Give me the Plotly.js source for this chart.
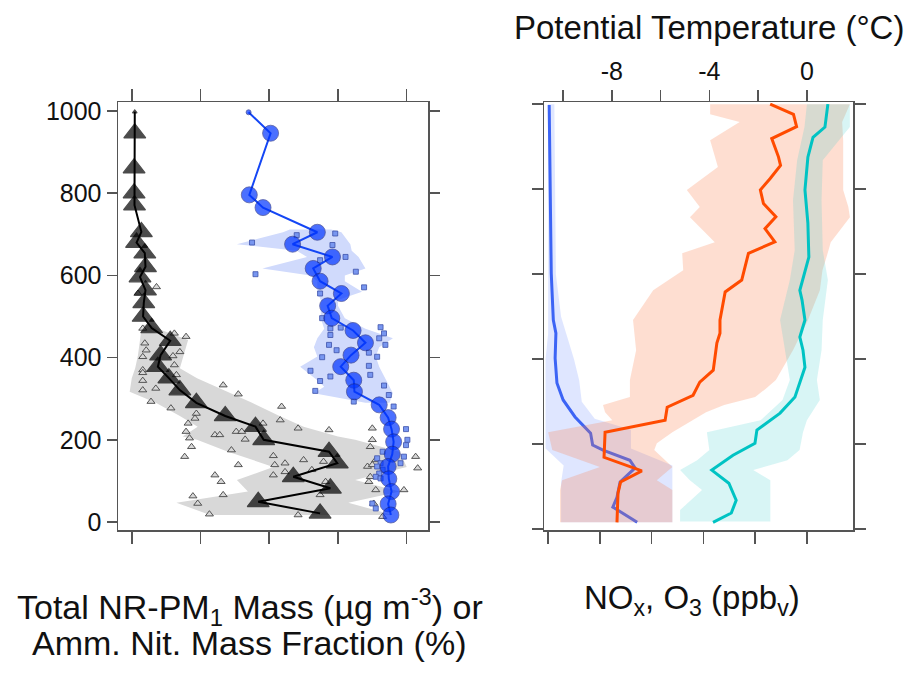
<!DOCTYPE html>
<html>
<head>
<meta charset="utf-8">
<script src="https://cdn.plot.ly/plotly-3.0.1.min.js"></script>
<style>html,body{margin:0;padding:0;background:#fff;}#chart{width:915px;height:674px;}</style>
</head>
<body>
<div id="chart"></div>
<script>
// ---------- Left panel: vertical profiles (altitude, m) ----------
const ammAlt = [998, 946, 861, 800, 771, 706, 680, 654, 621, 596, 564, 533, 500, 472, 441, 406, 378, 350, 321, 290, 258, 232, 200, 171, 143, 110, 82, 49, 21];
const ammVal = [0.44, 0.44, 0.34, 0.34, 0.4, 1.4, 0.7, 1.9, 2.0, 1.2, 2.0, 1.75, 1.65, 2.9, 5.6, 4.2, 3.8, 5.4, 7.0, 9.4, 13.6, 18.0, 19.2, 28.7, 29.9, 23.5, 28.9, 18.4, 27.4];

const massAlt = [997, 946, 796, 765, 705, 676, 645, 617, 586, 556, 526, 496, 466, 436, 406, 378, 345, 317, 285, 254, 226, 195, 165, 135, 105, 74, 44, 17];
const massVal = [17.0, 20.2, 17.1, 19.1, 27.0, 23.4, 29.2, 26.4, 27.4, 30.5, 28.5, 29.1, 32.2, 34.0, 31.9, 30.4, 32.3, 32.4, 36.0, 37.3, 37.8, 38.1, 37.9, 37.3, 37.4, 37.8, 37.3, 37.7];

// variability envelopes
const ammBandAlt = [480, 470, 443, 405, 374, 350, 317, 290, 258, 232, 208, 200, 171, 134, 102, 74, 47, 17];
const ammBandLo  = [1.8, 1.4, 1.2, 0.9, 0.5, 0.0, -0.3, 3.5, 7.0, 9.6, 7.4, 9.5, 14.0, 20.6, 15.3, 16.9, 6.5, 11.4];
const ammBandHi  = [2.8, 3.8, 8.2, 7.5, 7.0, 9.5, 14.0, 17.5, 21.5, 25.0, 30.0, 32.5, 39.0, 40.0, 32.5, 39.0, 31.5, 38.0];

const massBandAlt = [712, 705, 676, 660, 645, 617, 600, 586, 560, 540, 526, 496, 470, 447, 425, 403, 378, 345, 329, 313, 290];
const massBandLo  = [23.0, 22.0, 15.3, 24.0, 25.5, 19.0, 26.0, 27.0, 27.0, 27.5, 27.5, 27.5, 28.0, 27.0, 26.5, 27.0, 24.5, 27.0, 28.0, 26.5, 34.0];
const massBandHi  = [29.0, 30.5, 31.8, 32.0, 33.0, 34.0, 31.0, 31.0, 33.5, 30.0, 30.0, 31.0, 34.0, 38.0, 36.0, 35.5, 36.0, 37.0, 37.5, 38.0, 37.5];

// individual samples
const ammPtVal = [6.2, 7.9, 1.9, 2.1, 7.0, 1.6, 6.0, 6.2, 1.6, 1.6, 6.5, 1.6, 3.5, 1.6, 5.7, 2.8, 13.3, 15.5, 21.8, 21.6, 24.2, 19.1, 9.4, 9.2, 8.2, 7.9, 8.4, 12.1, 12.8, 15.2, 16.0, 16.5, 14.5, 8.7, 7.7, 15.5, 20.6, 22.3, 20.8, 20.6, 22.3, 25.0, 26.2, 12.1, 13.0, 13.3, 8.9, 9.6, 11.3, 24.2, 28.7, 35.0, 34.7, 35.0, 27.9, 34.3, 35.0, 35.5, 34.5, 34.7, 28.2, 27.4, 35.5, 39.6, 35.2, 41.3, 41.6, 36.5, 3.6, 0.9, 1.6];
const ammPtAlt = [459, 451, 435, 418, 414, 402, 404, 382, 370, 363, 358, 344, 325, 321, 277, 293, 333, 311, 281, 248, 228, 240, 264, 252, 240, 220, 204, 212, 212, 220, 220, 201, 175, 183, 159, 139, 161, 143, 139, 114, 122, 151, 127, 114, 98, 66, 63, 45, 19, 17, 224, 228, 183, 200, 147, 135, 139, 151, 98, 110, 98, 66, 78, 78, 45, 159, 131, 13, 572, 556, 471];

const massPtVal = [17.5, 29.6, 24.0, 29.2, 31.1, 27.4, 18.0, 32.6, 33.8, 27.4, 27.7, 28.9, 30.4, 28.9, 36.2, 36.7, 36.0, 28.7, 29.8, 36.9, 34.5, 35.7, 27.7, 26.0, 34.5, 34.7, 27.4, 28.9, 26.7, 36.7, 37.4, 32.3, 38.1, 39.9, 40.1, 39.9, 36.5, 35.7, 36.2, 35.7, 36.5, 36.0, 35.5, 39.6, 39.1, 36.2, 35.0, 35.5];
const massPtAlt = [680, 702, 698, 674, 645, 637, 603, 609, 571, 556, 496, 471, 473, 455, 474, 459, 447, 431, 418, 431, 412, 402, 401, 368, 380, 358, 343, 354, 319, 332, 309, 293, 281, 226, 200, 187, 171, 155, 143, 135, 127, 118, 110, 159, 143, 106, 45, 33];

// ---------- Right panel ----------
const noxAlt = [998, 798, 602, 492, 461, 402, 344, 304, 264, 226, 198, 186, 162, 144, 111, 75, 52, 16];
const noxVal = [0.2, 0.4, 0.6, 1.0, 1.5, 1.35, 1.7, 2.9, 5.2, 8.2, 8.6, 10.6, 15.8, 16.8, 13.9, 13.3, 12.5, 17.2];
const noxBandAlt = [1000, 600, 500, 460, 400, 350, 300, 260, 234, 190, 150, 110, 50, 16];
const noxBandLo  = [0, 0, 0, 0, -0.5, -0.5, -0.5, -0.5, -0.5, -0.5, 3.0, 2.5, 2.5, 2.5];
const noxBandHi  = [1.2, 1.5, 2.5, 3.5, 5.0, 6.0, 6.5, 9.0, 16.0, 16.0, 24.0, 24.0, 24.0, 24.0];

const o3Alt = [1000, 976, 947, 919, 876, 856, 825, 798, 766, 735, 707, 676, 649, 586, 558, 492, 461, 438, 374, 346, 315, 287, 256, 228, 169, 137, 111, 85, 16];
const o3Val = [42.9, 47.4, 48.0, 43.2, 44.5, 44.9, 42.9, 41.0, 41.6, 44.0, 41.9, 43.8, 38.7, 37.4, 34.2, 33.2, 33.2, 32.6, 31.9, 29.3, 28.0, 23.0, 22.6, 11.0, 10.8, 18.1, 14.0, 13.5, 13.3];
const o3BandAlt = [1000, 976, 958, 915, 852, 798, 758, 734, 675, 649, 609, 562, 492, 421, 351, 330, 311, 292, 275, 256, 228, 202, 186, 146, 115, 92, 16];
const o3BandLo  = [31.3, 31.3, 37.0, 31.3, 32.8, 26.8, 29.3, 27.4, 32.2, 25.9, 26.1, 20.3, 16.4, 17.0, 15.8, 15.8, 15.8, 10.6, 11.0, 12.4, 0.0, 0.5, 0.8, 10.0, 2.7, 2.3, 2.3];
const o3BandHi  = [58.3, 57.5, 56.8, 57.0, 57.0, 57.0, 58.0, 58.3, 54.6, 54.0, 53.0, 52.5, 50.2, 47.3, 44.0, 42.0, 40.0, 34.0, 30.5, 28.0, 24.0, 21.0, 20.5, 24.0, 21.0, 24.0, 24.0];

const thetaAlt = [1000, 946, 922, 875, 798, 720, 640, 586, 562, 539, 492, 452, 421, 381, 344, 311, 273, 233, 202, 174, 139, 108, 68, 38, 16];
const thetaVal = [0.86, 0.74, 0.25, 0.04, -0.08, 0.04, 0.08, -0.16, -0.29, -0.2, -0.08, -0.29, -0.16, -0.08, -0.29, -0.49, -1.1, -2.05, -2.13, -3.03, -3.9, -3.2, -2.9, -3.1, -3.85];
const thetaBandAlt = [1000, 946, 868, 774, 656, 586, 492, 421, 351, 304, 256, 228, 186, 162, 139, 115, 92, 45, 18];
const thetaBandLo  = [0, -0.1, -0.4, -0.57, -0.5, -0.7, -1.1, -0.9, -0.7, -1.0, -1.9, -4.1, -4.0, -4.5, -5.2, -4.8, -4.3, -5.2, -5.2];
const thetaBandHi  = [1.76, 1.76, 0.65, 0.6, 0.65, 0.86, 0.65, 0.6, 0.41, 0.53, 0.0, -0.16, -0.3, -0.8, -2.2, -1.5, -1.5, -1.5, -1.5];

const xTicksLeft = [0, 10, 20, 30, 40];
const yTicks = [0, 200, 400, 600, 800, 1000];
const yTickText = ['0', '200', '400', '600', '800', '1000'];
const xTicksPpb = [0, 10, 20, 30, 40, 50];
const thetaTicks = [-10, -8, -6, -4, -2, 0];
const thetaTickText = ['', '-8', '', '-4', '', '0'];

// ---------- helpers ----------
function band(alt, lo, hi, color, xa, ya) {
  return {
    x: lo.concat(hi.slice().reverse()),
    y: alt.concat(alt.slice().reverse()),
    xaxis: xa, yaxis: ya,
    type: 'scatter', mode: 'lines', fill: 'toself', fillcolor: color,
    line: {width: 0, color: 'rgba(0,0,0,0)'}, hoverinfo: 'skip'
  };
}

const traces = [
  band(ammBandAlt, ammBandLo, ammBandHi, 'rgb(216,216,216)', 'x', 'y'),
  band(massBandAlt, massBandLo, massBandHi, 'rgb(208,218,252)', 'x', 'y'),
  {x: ammPtVal, y: ammPtAlt, xaxis: 'x', yaxis: 'y', type: 'scatter', mode: 'markers',
   marker: {symbol: 'triangle-up', size: 7, color: 'rgb(215,215,215)', line: {color: '#444', width: 0.9}}},
  {x: massPtVal, y: massPtAlt, xaxis: 'x', yaxis: 'y', type: 'scatter', mode: 'markers',
   marker: {symbol: 'square', size: 5, color: 'rgb(120,150,240)', line: {color: 'rgb(60,80,170)', width: 0.8}}},
  {x: ammVal, y: ammAlt, xaxis: 'x', yaxis: 'y', type: 'scatter', mode: 'lines+markers',
   line: {color: '#000', width: 2},
   marker: {symbol: 'triangle-up', size: ammVal.map((v, i) => i === 0 ? 4 : 19), color: '#000',
            line: {color: '#000', width: 1.2}}},
  {x: massVal, y: massAlt, xaxis: 'x', yaxis: 'y', type: 'scatter', mode: 'lines+markers',
   line: {color: 'rgb(20,70,245)', width: 2},
   marker: {symbol: 'circle', size: massVal.map((v, i) => i === 0 ? 5 : 16), color: 'rgb(0,52,255)',
            line: {color: 'rgb(20,30,120)', width: 0.8}}},

  band(noxBandAlt, noxBandLo, noxBandHi, 'rgba(110,140,255,0.22)', 'x2', 'y2'),
  {x: noxVal, y: noxAlt, xaxis: 'x2', yaxis: 'y2', type: 'scatter', mode: 'lines',
   line: {color: 'rgb(60,100,245)', width: 3}},
  band(thetaBandAlt, thetaBandLo, thetaBandHi, 'rgba(60,205,205,0.2)', 'x3', 'y2'),
  {x: thetaVal, y: thetaAlt, xaxis: 'x3', yaxis: 'y2', type: 'scatter', mode: 'lines',
   line: {color: 'rgb(0,195,195)', width: 3}},
  band(o3BandAlt, o3BandLo, o3BandHi, 'rgba(250,125,70,0.25)', 'x2', 'y2'),
  {x: o3Val, y: o3Alt, xaxis: 'x2', yaxis: 'y2', type: 'scatter', mode: 'lines',
   line: {color: 'rgb(255,75,0)', width: 3}}
];

const W = 915, H = 674;
const frameCol = '#555';
const common = {showgrid: false, zeroline: false, showline: true, linecolor: frameCol, linewidth: 1.5,
  ticks: 'outside', tickcolor: frameCol, tickwidth: 1.5};

const layout = {
  width: W, height: H,
  margin: {l: 0, r: 0, t: 0, b: 0},
  paper_bgcolor: '#fff', plot_bgcolor: '#fff',
  showlegend: false,
  font: {family: 'Liberation Sans, Arial, sans-serif', size: 25, color: '#111'},
  xaxis: Object.assign({}, common, {domain: [118 / W, 428 / W], range: [-2.0, 43.1], anchor: 'y',
    tickvals: xTicksLeft, showticklabels: false, ticklen: 12, mirror: 'allticks'}),
  yaxis: Object.assign({}, common, {domain: [(H - 530) / H, (H - 102) / H], range: [-19.5, 1022], anchor: 'x',
    tickvals: yTicks, ticktext: yTickText, ticklen: 10, mirror: 'allticks'}),
  xaxis2: Object.assign({}, common, {domain: [544 / W, 853 / W], range: [-0.8, 58.9], anchor: 'y2',
    tickvals: xTicksPpb, showticklabels: false, ticklen: 12, mirror: false}),
  xaxis3: Object.assign({}, common, {overlaying: 'x2', side: 'top', anchor: 'y2', range: [-10.78, 1.89],
    tickvals: thetaTicks, ticktext: thetaTickText, ticklen: 11}),
  yaxis2: Object.assign({}, common, {domain: [(H - 530) / H, (H - 102) / H], range: [-2, 1005], anchor: 'x2',
    tickvals: yTicks, showticklabels: false, ticklen: 11, mirror: 'allticks'}),
  annotations: [
    {text: 'Potential Temperature (°C)', xref: 'paper', yref: 'paper', x: 709 / W, y: 1 - 28 / H,
     xanchor: 'center', yanchor: 'middle', showarrow: false, font: {size: 33}},
    {text: 'Total NR-PM<sub>1</sub> Mass (µg m<sup>-3</sup>) or', xref: 'paper', yref: 'paper', x: 250 / W, y: 1 - 607 / H,
     xanchor: 'center', yanchor: 'middle', showarrow: false, font: {size: 34}},
    {text: 'Amm. Nit. Mass Fraction (%)', xref: 'paper', yref: 'paper', x: 249 / W, y: 1 - 643 / H,
     xanchor: 'center', yanchor: 'middle', showarrow: false, font: {size: 34}},
    {text: 'NO<sub>x</sub>, O<sub>3</sub> (ppb<sub>v</sub>)', xref: 'paper', yref: 'paper', x: 692 / W, y: 1 - 600 / H,
     xanchor: 'center', yanchor: 'middle', showarrow: false, font: {size: 33}}
  ]
};

Plotly.newPlot('chart', traces, layout, {staticPlot: true, displayModeBar: false});
</script>
</body>
</html>
